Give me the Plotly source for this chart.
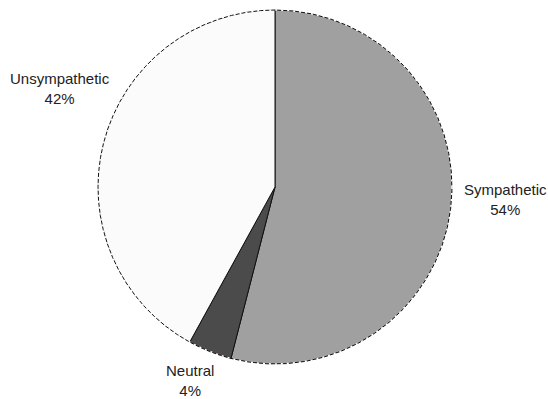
import plotly.graph_objects as go

# Response categories and their shares (%)
labels = ["Sympathetic", "Neutral", "Unsympathetic"]
values = [54, 4, 42]
colors = ["#a0a0a0", "#4b4b4b", "#fbfbfb"]

W, H = 548, 399
cx, cy, r = 275, 187, 177  # pie centre / radius in pixels

dom_x = [(cx - r) / W, (cx + r) / W]
dom_y = [(H - cy - r) / H, (H - cy + r) / H]

fig = go.Figure(
    go.Pie(
        labels=labels,
        values=values,
        sort=False,
        direction="clockwise",
        rotation=0,
        marker=dict(colors=colors, line=dict(color="#111111", width=1)),
        textinfo="none",
        hoverinfo="label+percent",
        domain=dict(x=dom_x, y=dom_y),
        showlegend=False,
    )
)

# Outer rim rendered dashed: white dashes laid over the solid outline
fig.add_shape(
    type="circle",
    xref="paper", yref="paper",
    x0=dom_x[0], x1=dom_x[1], y0=dom_y[0], y1=dom_y[1],
    line=dict(color="white", width=1.6, dash="2px,4px"),
    layer="above",
)

# Outside labels: name and percentage
total = sum(values)
label_pos = {
    "Sympathetic": (505, 199),
    "Neutral": (190, 380),
    "Unsympathetic": (60, 88),
}
for lab, val in zip(labels, values):
    px, py = label_pos[lab]
    fig.add_annotation(
        x=px / W, y=(H - py) / H,
        xref="paper", yref="paper",
        text=f"{lab}<br>{round(100 * val / total)}%",
        showarrow=False,
        xanchor="center", yanchor="middle",
        align="center",
        font=dict(family="Liberation Sans, Arial, sans-serif", size=15, color="#222222"),
    )

fig.update_layout(
    width=W, height=H,
    margin=dict(l=0, r=0, t=0, b=0),
    paper_bgcolor="white",
    plot_bgcolor="white",
)

fig.write_html("out.html")
